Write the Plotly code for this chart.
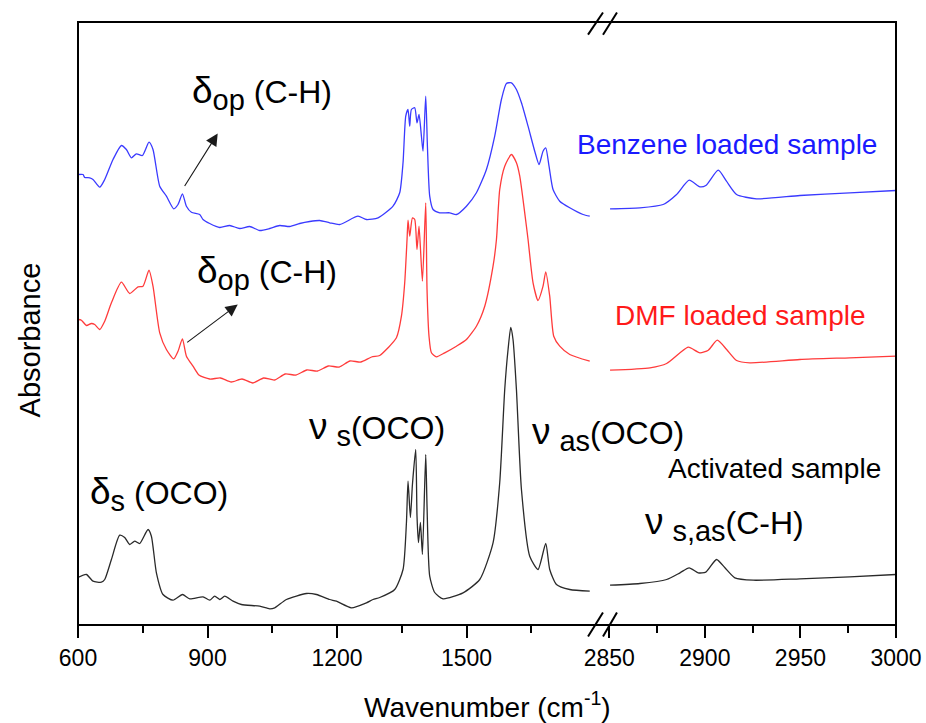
import plotly.graph_objects as go

# ---------------- data ----------------
# Activated sample (black)
act_wn_low = [600, 619.5, 634.7, 654.2, 661.9, 677.4, 696.6, 708.2, 719.8, 731.3, 742.9, 762.2, 770,
              781.6, 796.9, 820.1, 841.9, 858.8, 889.6, 905.1, 916.7, 928.3, 939.8, 959.1, 978.5,
              1020.9, 1044.1, 1055.7, 1082.8, 1129.1, 1152.3, 1183, 1198.6, 1233.4, 1268.1, 1283.4,
              1298.9, 1333.7, 1352.9, 1360.8, 1364.5, 1370, 1374.7, 1382.3, 1385.3, 1388.6, 1393.2,
              1397.8, 1405.5, 1408.5, 1414.7, 1426.3, 1445.6, 1491.9, 1530.6, 1561.4, 1576.9,
              1588.5, 1596.2, 1602.4, 1607.7, 1615.6, 1627.2, 1646.4, 1665.6, 1683.5, 1692.7,
              1708.3, 1739.1, 1785.4]
act_ab_low = [0.475, 0.505, 0.438, 0.428, 0.455, 0.655, 0.898, 0.875, 0.805, 0.838, 0.815, 0.955, 0.888,
              0.522, 0.305, 0.248, 0.305, 0.262, 0.282, 0.248, 0.288, 0.255, 0.288, 0.238, 0.205,
              0.188, 0.162, 0.172, 0.255, 0.315, 0.305, 0.255, 0.238, 0.172, 0.222, 0.255,
              0.275, 0.355, 0.555, 1.025, 1.438, 1.075, 1.405, 1.755, 1.088, 0.825, 1.025,
              0.705, 1.705, 1.188, 0.488, 0.325, 0.262, 0.322, 0.455, 0.822, 1.425,
              2.355, 2.755, 2.975, 2.855, 2.355, 1.355, 0.688, 0.555, 0.815, 0.555,
              0.405, 0.355, 0.338]
act_wn_high = [2850.4, 2866, 2880, 2887, 2891.8, 2896.5, 2900.5, 2906.1, 2910.5, 2915.7, 2925.3,
               2949.7, 2975.8, 2999.9]
act_ab_high = [0.398, 0.415, 0.455, 0.522, 0.572, 0.522, 0.528, 0.655, 0.572, 0.472, 0.448,
               0.462, 0.482, 0.505]

# DMF loaded sample (red)
dmf_wn_low = [600, 607.9, 619.5, 631, 638.7, 650.3, 661.9, 677.4, 700.5, 719.8, 739, 750.6, 764.5,
              773.7, 789.3, 804.8, 821.7, 831.7, 841.9, 851.1, 866.4, 880, 905, 930, 955, 980,
              1005, 1030, 1055, 1080, 1105, 1130, 1155, 1180, 1205, 1230, 1255, 1280,
              1298.9, 1318.2, 1337.6, 1349.2, 1356.8, 1362.2, 1364.5, 1368.4, 1374.7, 1380,
              1385.3, 1390, 1397.8, 1405.5, 1408.5, 1413.1, 1418.7, 1430.3, 1449.5, 1476.6,
              1499.8, 1522.9, 1542.2, 1561.4, 1569.3, 1576.9, 1588.5, 1604, 1615.6, 1623.3,
              1634.8, 1642.5, 1654.1, 1665.6, 1677.2, 1683.5, 1692.7, 1702, 1715.9, 1739.1, 1785.4]
dmf_ab_low = [3.055, 3.048, 2.995, 3.015, 3.005, 2.955, 3.038, 3.222, 3.428, 3.315, 3.382, 3.388, 3.548,
              3.388, 2.922, 2.755, 2.662, 2.738, 2.862, 2.688, 2.588, 2.50, 2.46, 2.47, 2.43, 2.46,
              2.42, 2.47, 2.45, 2.51, 2.50, 2.55, 2.54, 2.59, 2.58, 2.64, 2.63, 2.68,
              2.695, 2.772, 2.872, 3.088, 3.422, 3.855, 4.048, 3.888, 4.072, 4.055,
              3.755, 3.988, 3.438, 4.222, 3.355, 2.888, 2.722, 2.682, 2.722, 2.788,
              2.855, 2.988, 3.188, 3.588, 3.855, 4.355, 4.588, 4.705, 4.622, 4.488,
              4.122, 3.855, 3.422, 3.245, 3.388, 3.532, 3.288, 2.888, 2.788, 2.705, 2.638]
dmf_wn_high = [2850.4, 2871.3, 2880, 2887, 2891.4, 2897.4, 2901.8, 2906.5, 2911.4, 2916.6, 2923.6,
               2949.7, 2975.8, 2999.9]
dmf_ab_high = [2.548, 2.572, 2.615, 2.722, 2.778, 2.722, 2.748, 2.848, 2.755, 2.645, 2.622,
               2.655, 2.672, 2.688]

# Benzene loaded sample (blue)
ben_wn_low = [600, 611.6, 615.5, 627.1, 634.7, 650.3, 661.9, 681.1, 700.5, 712.1, 723.7, 735.3, 749.2,
              764.5, 773.7, 789.3, 804.8, 821.7, 831.7, 841.9, 851.1, 862.7, 881.9, 889.6, 905.1,
              928.3, 951.4, 974.6, 997.7, 1020.9, 1044.1, 1067.2, 1090.4, 1113.6, 1136.7, 1159.9,
              1183, 1206.2, 1248.6, 1268.1, 1295, 1329.7, 1345.2, 1352.9, 1359.2, 1364.5, 1368.4,
              1372.3, 1380, 1385.3, 1390, 1395.5, 1399.2, 1405.5, 1409.4, 1414.7, 1422.4, 1437.9,
              1461.1, 1476.6, 1499.8, 1522.9, 1546.1, 1565.3, 1580.8, 1592.4, 1604, 1615.6, 1627.2,
              1642.5, 1658, 1668, 1677.2, 1683.5, 1691.1, 1700.4, 1715.9, 1739.1, 1769.9, 1785.4]
ben_ab_low = [4.505, 4.505, 4.475, 4.472, 4.455, 4.378, 4.455, 4.655, 4.795, 4.755, 4.672, 4.712, 4.695,
              4.828, 4.755, 4.388, 4.288, 4.162, 4.205, 4.312, 4.188, 4.128, 4.105, 4.055, 4.015,
              3.975, 3.995, 3.965, 3.985, 3.945, 3.965, 3.995, 3.985, 4.015, 4.035, 4.045,
              4.022, 4.005, 4.088, 4.055, 4.072, 4.188, 4.322, 4.622, 5.088, 5.155, 4.988,
              5.155, 5.172, 5.022, 5.105, 4.888, 4.738, 5.288, 4.788, 4.288, 4.155, 4.122,
              4.122, 4.105, 4.188, 4.322, 4.555, 4.888, 5.255, 5.415, 5.422, 5.355, 5.222,
              4.988, 4.738, 4.605, 4.738, 4.772, 4.588, 4.355, 4.238, 4.172, 4.105, 4.088]
ben_wn_high = [2850.4, 2866, 2878.2, 2885.2, 2891.8, 2897.4, 2900.5, 2907, 2911.3, 2916.6, 2927,
               2949.7, 2975.8, 2999.9]
ben_ab_high = [4.162, 4.172, 4.205, 4.305, 4.448, 4.382, 4.395, 4.548, 4.438, 4.305, 4.262,
               4.295, 4.322, 4.345]

low_ticks = [600, 900, 1200, 1500]
low_minor = [750, 1050, 1350, 1650]
high_ticks = [2850, 2900, 2950, 3000]
high_minor = [2875, 2925, 2975]

# ---------------- figure ----------------
FONT = "Arial, Liberation Sans, sans-serif"
BLACK, RED, BLUE = "#2a2a2a", "#ff3b3b", "#3a3aff"
LW = 1.3

fig = go.Figure()
series = [
    (act_wn_low, act_ab_low, act_wn_high, act_ab_high, BLACK),
    (dmf_wn_low, dmf_ab_low, dmf_wn_high, dmf_ab_high, RED),
    (ben_wn_low, ben_ab_low, ben_wn_high, ben_ab_high, BLUE),
]
for xl, yl, xh, yh, c in series:
    fig.add_trace(go.Scatter(x=xl, y=yl, mode="lines",
                             line=dict(color=c, width=LW, shape="spline", smoothing=0.6),
                             xaxis="x", yaxis="y", showlegend=False, hoverinfo="skip"))
    fig.add_trace(go.Scatter(x=xh, y=yh, mode="lines",
                             line=dict(color=c, width=LW, shape="spline", smoothing=0.6),
                             xaxis="x2", yaxis="y", showlegend=False, hoverinfo="skip"))

L0, L1 = 0.0, 0.6333
R0, R1 = 0.6495, 1.0

axis_common = dict(showgrid=False, zeroline=False, showline=False, ticks="outside",
                   ticklen=12, tickwidth=2, tickcolor="black", automargin=False,
                   ticklabeloverflow="allow",
                   tickfont=dict(family=FONT, size=23, color="black"))
fig.update_layout(
    width=926, height=723, autosize=False,
    margin=dict(l=78, r=29.5, t=22, b=98, pad=0),
    paper_bgcolor="white", plot_bgcolor="white",
    xaxis=dict(domain=[L0, L1], range=[600, 1800], tickmode="array", tickvals=low_ticks,
               minor=dict(tickvals=low_minor, ticks="outside", ticklen=7, tickwidth=2,
                          tickcolor="black"),
               anchor="y", **axis_common),
    xaxis2=dict(domain=[R0, R1], range=[2850, 3000], tickmode="array", tickvals=high_ticks,
                minor=dict(tickvals=high_minor, ticks="outside", ticklen=7, tickwidth=2,
                           tickcolor="black"),
                anchor="y", **axis_common),
    yaxis=dict(range=[0, 6.03], showticklabels=False, ticks="", showgrid=False,
               zeroline=False, showline=False, automargin=False),
)

# frame and axis breaks
fig.add_shape(type="rect", xref="paper", yref="paper", x0=0, y0=0, x1=1, y1=1,
              line=dict(color="black", width=2))
for yb0, yb1 in [(0.979, 1.0158), (-0.019, 0.0207)]:
    for xs0, xs1 in [(0.6235, 0.6418), (0.6418, 0.6589)]:
        fig.add_shape(type="line", xref="paper", yref="paper", x0=xs0, y0=yb0, x1=xs1, y1=yb1,
                      line=dict(color="black", width=2))

# axis titles
fig.add_annotation(text="Wavenumber (cm<sup>-1</sup>)", xref="paper", yref="paper",
                   x=0.5, y=-0.132, showarrow=False, xanchor="center", yanchor="middle",
                   font=dict(family=FONT, size=28, color="black"))
fig.add_annotation(text="Absorbance", xref="paper", yref="paper", x=-0.0587, y=0.4735,
                   showarrow=False, textangle=-90, xanchor="center", yanchor="middle",
                   font=dict(family=FONT, size=29, color="black"))

# sample labels
for txt, xp, yp, c in [("Benzene loaded sample", 0.7934, 0.797, "#1a1aff"),
                       ("DMF loaded sample", 0.8105, 0.5133, "#ff1a1a"),
                       ("Activated sample", 0.852, 0.2595, "black")]:
    fig.add_annotation(text=txt, xref="paper", yref="paper", x=xp, y=yp, showarrow=False,
                       xanchor="center", yanchor="middle",
                       font=dict(family=FONT, size=28, color=c))

# band assignments
GF = dict(family=FONT, size=32, color="black")
def sub(t):
    return "<sub><span style='font-size:29px'>%s</span></sub>" % t
def big(t):
    return "<span style='font-size:37px'>%s</span>" % t
for txt, xp, yp in [(big("δ") + sub("op") + " (C-H)", 0.137, 0.883),
                    (big("δ") + sub("op") + " (C-H)", 0.143, 0.583),
                    (big("δ") + sub("s") + " (OCO)", 0.0122, 0.218),
                    (big("ν") + " " + sub("s") + "(OCO)", 0.28, 0.325),
                    (big("ν") + " " + sub("as") + "(OCO)", 0.552, 0.316),
                    (big("ν") + " " + sub("s,as") + "(C-H)", 0.6907, 0.167)]:
    fig.add_annotation(text=txt, xref="paper", yref="paper", x=xp, y=yp, showarrow=False,
                       xanchor="left", yanchor="middle", font=GF)

# arrows
for hx, hy, tx, ty in [(923.6, 4.915, 844.9, 4.375), (970, 3.205, 849.5, 2.815)]:
    fig.add_annotation(text="", x=hx, y=hy, ax=tx, ay=ty, xref="x", yref="y",
                       axref="x", ayref="y", showarrow=True, arrowhead=2, arrowsize=2.2,
                       arrowwidth=1.1, arrowcolor="#1a1a1a")

fig.write_html("out.html")
